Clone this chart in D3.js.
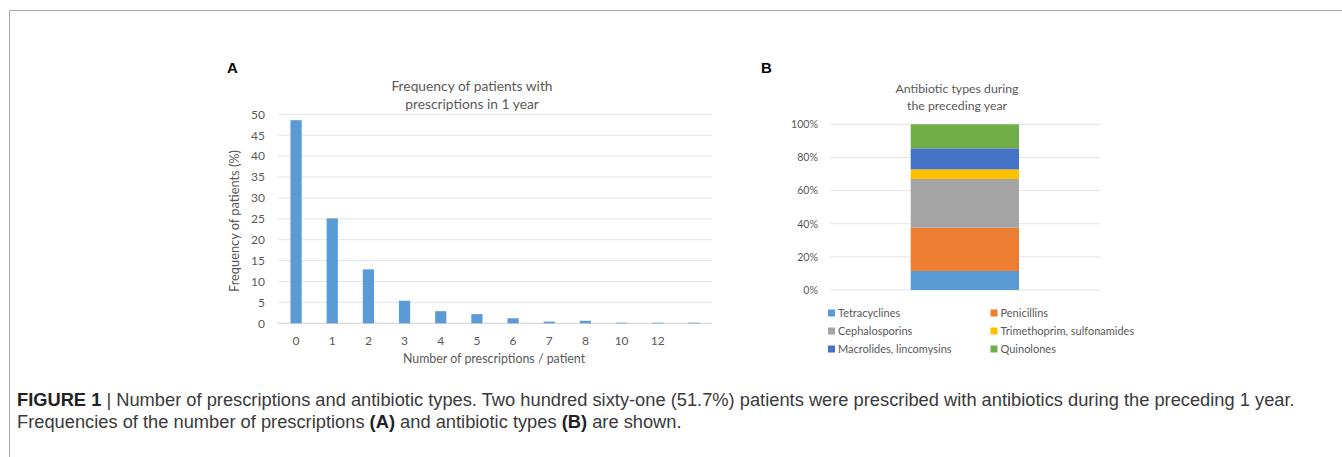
<!DOCTYPE html>
<html>
<head>
<meta charset="utf-8">
<script src="https://cdn.jsdelivr.net/npm/d3@7"></script>
<style>
  body { margin: 0; background: #fff; }
  svg { display: block; }
  .chart text { font-family: Lato, "Open Sans", sans-serif; fill: #595959; }
  .caption { font-family: "Liberation Sans", Arial, sans-serif; fill: #3a3a3a; font-size: 18.3px; }
</style>
</head>
<body>
<svg id="fig" width="1342" height="457"></svg>
<script>
// panel A data
var prescCats = ["0", "1", "2", "3", "4", "5", "6", "7", "8", "10", "12", " "];
var prescFreq = [48.6, 25.1, 12.9, 5.4, 2.9, 2.2, 1.2, 0.4, 0.6, 0.15, 0.15, 0.15];
var freqTicks = [0, 5, 10, 15, 20, 25, 30, 35, 40, 45, 50];

// panel B data
var abTypes = ["Tetracyclines", "Penicillins", "Cephalosporins", "Trimethoprim, sulfonamides", "Macrolides, lincomysins", "Quinolones"];
var abShare = [11.5, 26.1, 29.4, 5.8, 12.7, 14.5];
var abColors = ["#5b9bd5", "#ed7d31", "#a5a5a5", "#ffc000", "#4472c4", "#70ad47"];
var pctTicks = [0, 20, 40, 60, 80, 100];

var svg = d3.select("#fig");

// frame
svg.append("path")
    .attr("d", "M9.5,457V10.5H1342")
    .attr("fill", "none")
    .attr("stroke", "#aaa")
    .attr("stroke-width", 1);

// ---------- panel A ----------
var gA = svg.append("g").attr("class", "chart");

var x = d3.scaleBand().domain(prescCats).range([278, 712]).paddingInner(0.69).paddingOuter(0.345);
var y = d3.scaleLinear().domain([0, 50]).range([323.3, 114.3]);

gA.selectAll(".grid")
    .data(freqTicks)
    .enter().append("line")
    .attr("x1", 278).attr("x2", 712)
    .attr("y1", function(d) { return y(d); })
    .attr("y2", function(d) { return y(d); })
    .attr("stroke", function(d) { return d === 0 ? "#d0d0d0" : "#e3e3e3"; })
    .attr("stroke-width", 1);

var yAx = gA.append("g")
    .attr("transform", "translate(270,0)")
    .call(d3.axisLeft(y).tickValues(freqTicks).tickSize(0).tickPadding(5));
yAx.select(".domain").remove();
yAx.selectAll("text").style("font-size", "12px").attr("fill", "#595959");

var xAx = gA.append("g")
    .attr("transform", "translate(0,323.3)")
    .call(d3.axisBottom(x).tickSize(0).tickPadding(13));
xAx.select(".domain").remove();
xAx.selectAll("text").style("font-size", "12px").attr("fill", "#595959");

gA.selectAll(".bar")
    .data(prescFreq)
    .enter().append("rect")
    .attr("class", "bar")
    .attr("x", function(d, i) { return x(prescCats[i]); })
    .attr("y", function(d) { return y(d); })
    .attr("width", x.bandwidth())
    .attr("height", function(d) { return y(0) - y(d); })
    .attr("fill", "#5b9bd5");

gA.append("text")
    .attr("x", 472).attr("y", 91)
    .attr("text-anchor", "middle")
    .style("font-size", "13.8px")
    .text("Frequency of patients with");
gA.append("text")
    .attr("x", 472).attr("y", 108.5)
    .attr("text-anchor", "middle")
    .style("font-size", "13.8px")
    .text("prescriptions in 1 year");

gA.append("text")
    .attr("transform", "translate(239,221) rotate(-90)")
    .attr("text-anchor", "middle")
    .style("font-size", "12.8px")
    .text("Frequency of patients (%)");

gA.append("text")
    .attr("x", 494).attr("y", 363)
    .attr("text-anchor", "middle")
    .style("font-size", "12.4px")
    .text("Number of prescriptions / patient");

svg.append("text")
    .attr("x", 227).attr("y", 73)
    .style("font-family", "'Liberation Sans', Arial, sans-serif")
    .style("font-weight", "bold")
    .style("font-size", "15px")
    .attr("fill", "#000")
    .text("A");

// ---------- panel B ----------
var gB = svg.append("g").attr("class", "chart");

var yB = d3.scaleLinear().domain([0, 100]).range([290, 124.3]);

gB.selectAll(".gridB")
    .data(pctTicks)
    .enter().append("line")
    .attr("x1", 830).attr("x2", 1100)
    .attr("y1", function(d) { return yB(d); })
    .attr("y2", function(d) { return yB(d); })
    .attr("stroke", "#e3e3e3")
    .attr("stroke-width", 1);

var yBAx = gB.append("g")
    .attr("transform", "translate(824,0)")
    .call(d3.axisLeft(yB).tickValues(pctTicks).tickSize(0).tickPadding(6).tickFormat(function(d) { return d + "%"; }));
yBAx.select(".domain").remove();
yBAx.selectAll("text").style("font-size", "10.6px").attr("fill", "#595959");

var stackData = [{}];
abTypes.forEach(function(t, i) { stackData[0][t] = abShare[i]; });
var series = d3.stack().keys(abTypes)(stackData);

gB.selectAll(".seg")
    .data(series)
    .enter().append("rect")
    .attr("class", "seg")
    .attr("x", 910.7)
    .attr("width", 108.3)
    .attr("y", function(s) { return yB(s[0][1]); })
    .attr("height", function(s) { return yB(s[0][0]) - yB(s[0][1]); })
    .attr("fill", function(s, i) { return abColors[i]; });

gB.append("text")
    .attr("x", 957).attr("y", 93)
    .attr("text-anchor", "middle")
    .style("font-size", "12.3px")
    .text("Antibiotic types during");
gB.append("text")
    .attr("x", 957).attr("y", 110)
    .attr("text-anchor", "middle")
    .style("font-size", "12.3px")
    .text("the preceding year");

var leg = gB.selectAll(".leg")
    .data(abTypes)
    .enter().append("g")
    .attr("class", "leg")
    .attr("transform", function(d, i) {
        return "translate(" + (i % 2 === 0 ? 828 : 990.5) + "," + (313 + Math.floor(i / 2) * 18) + ")";
    });
leg.append("rect")
    .attr("x", 0).attr("y", -3.5)
    .attr("width", 7).attr("height", 7)
    .attr("fill", function(d, i) { return abColors[i]; });
leg.append("text")
    .attr("x", 10).attr("y", 3.8)
    .style("font-size", "11px")
    .text(function(d) { return d; });

svg.append("text")
    .attr("x", 761).attr("y", 73)
    .style("font-family", "'Liberation Sans', Arial, sans-serif")
    .style("font-weight", "bold")
    .style("font-size", "15px")
    .attr("fill", "#000")
    .text("B");

// ---------- caption ----------
var cap1 = svg.append("text").attr("class", "caption").attr("x", 17).attr("y", 406);
cap1.append("tspan").style("font-weight", "bold").attr("fill", "#222").text("FIGURE 1");
cap1.append("tspan").text(" | Number of prescriptions and antibiotic types. Two hundred sixty-one (51.7%) patients were prescribed with antibiotics during the preceding 1 year.");

var cap2 = svg.append("text").attr("class", "caption").attr("x", 17).attr("y", 428);
cap2.append("tspan").text("Frequencies of the number of prescriptions ");
cap2.append("tspan").style("font-weight", "bold").attr("fill", "#222").text("(A)");
cap2.append("tspan").text(" and antibiotic types ");
cap2.append("tspan").style("font-weight", "bold").attr("fill", "#222").text("(B)");
cap2.append("tspan").text(" are shown.");
</script>
</body>
</html>
